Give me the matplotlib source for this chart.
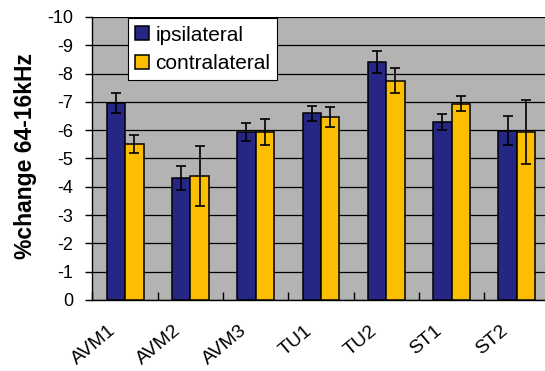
import numpy as np
import matplotlib.pyplot as plt
import matplotlib.transforms as mtrans

plt.rcParams['font.family'] = ['Liberation Sans', 'DejaVu Sans']
plt.rcParams['axes.unicode_minus'] = False

# data
groups = ['AVM1', 'AVM2', 'AVM3', 'TU1', 'TU2', 'ST1', 'ST2']
ipsi = [-6.95, -4.32, -5.94, -6.60, -8.41, -6.28, -5.98]
ipsi_err = [0.35, 0.43, 0.32, 0.27, 0.38, 0.28, 0.52]
contra = [-5.51, -4.38, -5.94, -6.47, -7.75, -6.94, -5.94]
contra_err = [0.33, 1.05, 0.45, 0.35, 0.45, 0.26, 1.12]

navy = '#262685'
gold = '#fbbe00'

fig = plt.figure(figsize=(5.45, 3.71), dpi=100)
ax = fig.add_axes([0.1697, 0.1914, 0.8385, 0.7628])
ax.set_facecolor('#b3b3b3')

x = np.arange(len(groups))
w = 0.283
ax.bar(x - w/2, ipsi, w, color=navy, edgecolor='black', linewidth=1.1,
       label='ipsilateral', zorder=3)
ax.bar(x + w/2, contra, w, color=gold, edgecolor='black', linewidth=1.1,
       label='contralateral', zorder=3)
ax.errorbar(x - w/2, ipsi, yerr=ipsi_err, fmt='none', ecolor='black',
            elinewidth=1.2, capsize=3.6, capthick=1.2, zorder=4)
ax.errorbar(x + w/2, contra, yerr=contra_err, fmt='none', ecolor='black',
            elinewidth=1.2, capsize=3.6, capthick=1.2, zorder=4)

ax.set_ylim(0, -10)
ax.set_xlim(-0.5, len(groups) - 0.5)
ax.set_yticks(np.arange(0, -11, -1))
ax.yaxis.grid(True, color='black', linewidth=0.9, zorder=1)
ax.set_axisbelow(True)

ax.set_xticks(x)
ax.set_xticklabels(groups, rotation=40, ha='right', va='top',
                   rotation_mode='anchor', fontsize=14)
ax.tick_params(axis='x', length=0, pad=16)
shift = mtrans.ScaledTranslation(-17/100, 0, fig.dpi_scale_trans)
for lab in ax.get_xticklabels():
    lab.set_transform(lab.get_transform() + shift)
ax.set_xticks(np.arange(-0.5, len(groups)), minor=True)
ax.tick_params(axis='x', which='minor', direction='in', length=6, width=1)
ax.tick_params(axis='y', direction='out', length=5, width=1, labelsize=13,
               pad=9)

for s in ['top', 'right']:
    ax.spines[s].set_visible(False)
ax.spines['left'].set_linewidth(1)
ax.spines['bottom'].set_linewidth(1)

ax.set_ylabel('%change 64-16kHz', fontsize=16.5, fontweight='bold')
ax.yaxis.set_label_coords(-0.122, 0.509)

leg = ax.legend(loc='upper left', bbox_to_anchor=(0.077, 0.995), fontsize=15,
                frameon=True, fancybox=False, framealpha=1, edgecolor='black',
                handlelength=0.67, handleheight=0.67, handletextpad=0.3,
                borderpad=0.35, labelspacing=0.45, borderaxespad=0)
leg.get_frame().set_linewidth(0.8)

fig.savefig('out.png', dpi=100)
